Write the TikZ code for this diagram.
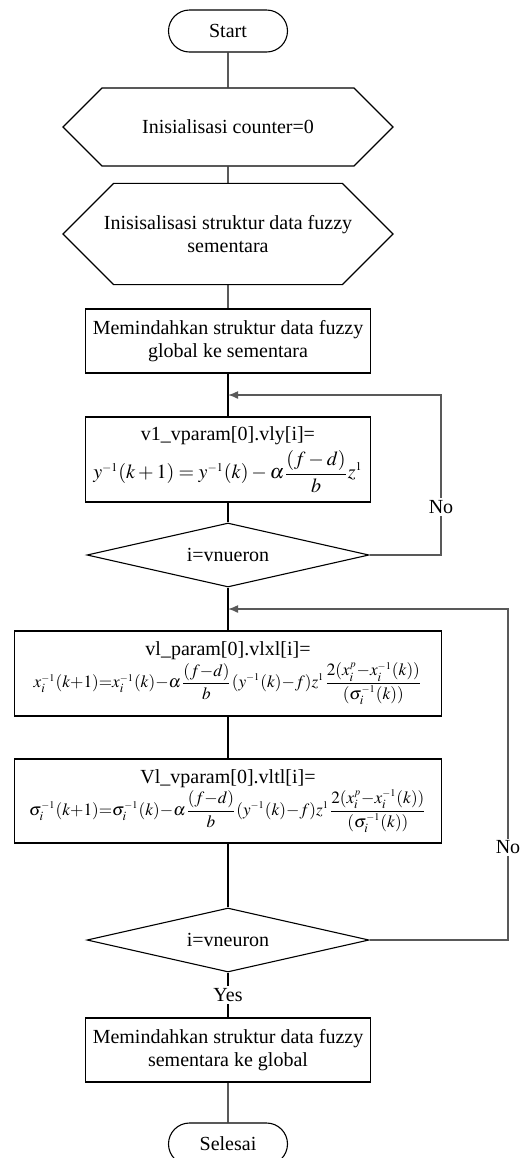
\documentclass[tikz,border=0pt]{standalone}
\usepackage{mathptmx}
\usepackage[no-math]{fontspec}
\setmainfont{Liberation Serif}
\usetikzlibrary{arrows.meta,positioning,calc,shapes.geometric,shapes.misc}
\newcommand{\invs}{^{\scriptscriptstyle-1}}

\begin{document}
\begin{tikzpicture}[x=0.5pt,y=-0.5pt,>={Latex[length=5pt,width=4pt]},line width=0.55pt,
  every node/.style={font=\fontsize{10}{11.5}\selectfont},
  term/.style={draw,rounded rectangle,minimum width=59.5pt,minimum height=21pt,inner sep=0pt},
  prep/.style={draw,chamfered rectangle,chamfered rectangle xsep=12pt,chamfered rectangle ysep=16pt,
    chamfered rectangle corners={north west,south west,north east,south east},
    minimum width=165pt,minimum height=32pt,align=center,inner sep=0pt},
  proc/.style={draw,rectangle,minimum width=142.5pt,align=center,inner sep=2pt},
  decide/.style={draw,diamond,aspect=4.4,minimum width=141pt,minimum height=32pt,inner sep=0pt},
  tightmath/.style={execute at begin node={\medmuskip=0mu\thickmuskip=0mu\thinmuskip=0mu}},
  loopline/.style={black!65,line width=0.75pt},
  lbl/.style={fill=white,inner sep=1pt}]
\useasboundingbox (0,0) rectangle (520,1158);
% steps of the flow
\node[term] (start) at (228,31) {Start};
\node[prep] (init1) at (228,127) {Inisialisasi counter=0};
\node[prep] (init2) at (228,234) {Inisisalisasi struktur data fuzzy\\sementara};
\node[proc,minimum height=32pt] (copyin) at (228,341) {Memindahkan struktur data fuzzy\\global ke sementara};
\coordinate (join1) at (228,395);
\node[proc,minimum height=42.5pt] (upy) at (228,459.5) {v1\_vparam[0].vly[i]=\\[2pt]
  $y\invs(k+1)=y\invs(k)-\alpha\displaystyle\frac{(f-d)}{b}z^{\scriptscriptstyle1}$};
\node[decide] (dec1) at (228,555) {i=vnueron};
\coordinate (join2) at (228,609);
\node[proc,tightmath,minimum width=213.5pt,minimum height=42.5pt] (upx) at (228,673.5) {vl\_param[0].vlxl[i]=\\
  \fontsize{8.6}{10.5}\selectfont
  $x_i\invs(k+1)=x_i\invs(k)-\alpha\displaystyle\frac{(f-d)}{b}(y\invs(k)-f)z^{\scriptscriptstyle1}\,\frac{2(x_i^{\scriptscriptstyle p}-x_i\invs(k))}{(\sigma_i\invs(k))}$};
\node[proc,tightmath,minimum width=213.5pt,minimum height=42pt] (ups) at (228,801) {Vl\_vparam[0].vltl[i]=\\
  \fontsize{8.6}{10.5}\selectfont
  $\sigma_i\invs(k+1)=\sigma_i\invs(k)-\alpha\displaystyle\frac{(f-d)}{b}(y\invs(k)-f)z^{\scriptscriptstyle1}\,\frac{2(x_i^{\scriptscriptstyle p}-x_i\invs(k))}{(\sigma_i\invs(k))}$};
\node[decide] (dec2) at (228,940) {i=vneuron};
\node[proc,minimum height=32pt] (copyout) at (228,1050) {Memindahkan struktur data fuzzy\\sementara ke global};
\node[term] (stop) at (228,1144) {Selesai};
\coordinate (ret1) at (441,395);
\coordinate (ret2) at (508,609);
% connectors
\draw (start) -- (init1);
\draw (init1) -- (init2);
\draw (init2) -- (copyin);
\draw (copyin) -- (upy);
\draw (upy) -- (dec1);
\draw (dec1) -- (upx);
\draw (upx) -- (ups);
\draw (ups) -- (dec2);
\draw (dec2) -- node[lbl] {Yes} (copyout);
\draw (copyout) -- (stop);
% loops back
\draw[loopline,->] (dec1.east) -| node[lbl,pos=0.65,text=black] {No} (ret1) -- (join1);
\draw[loopline,->] (dec2.east) -| node[lbl,pos=0.64,text=black] {No} (ret2) -- (join2);
\end{tikzpicture}
\end{document}
